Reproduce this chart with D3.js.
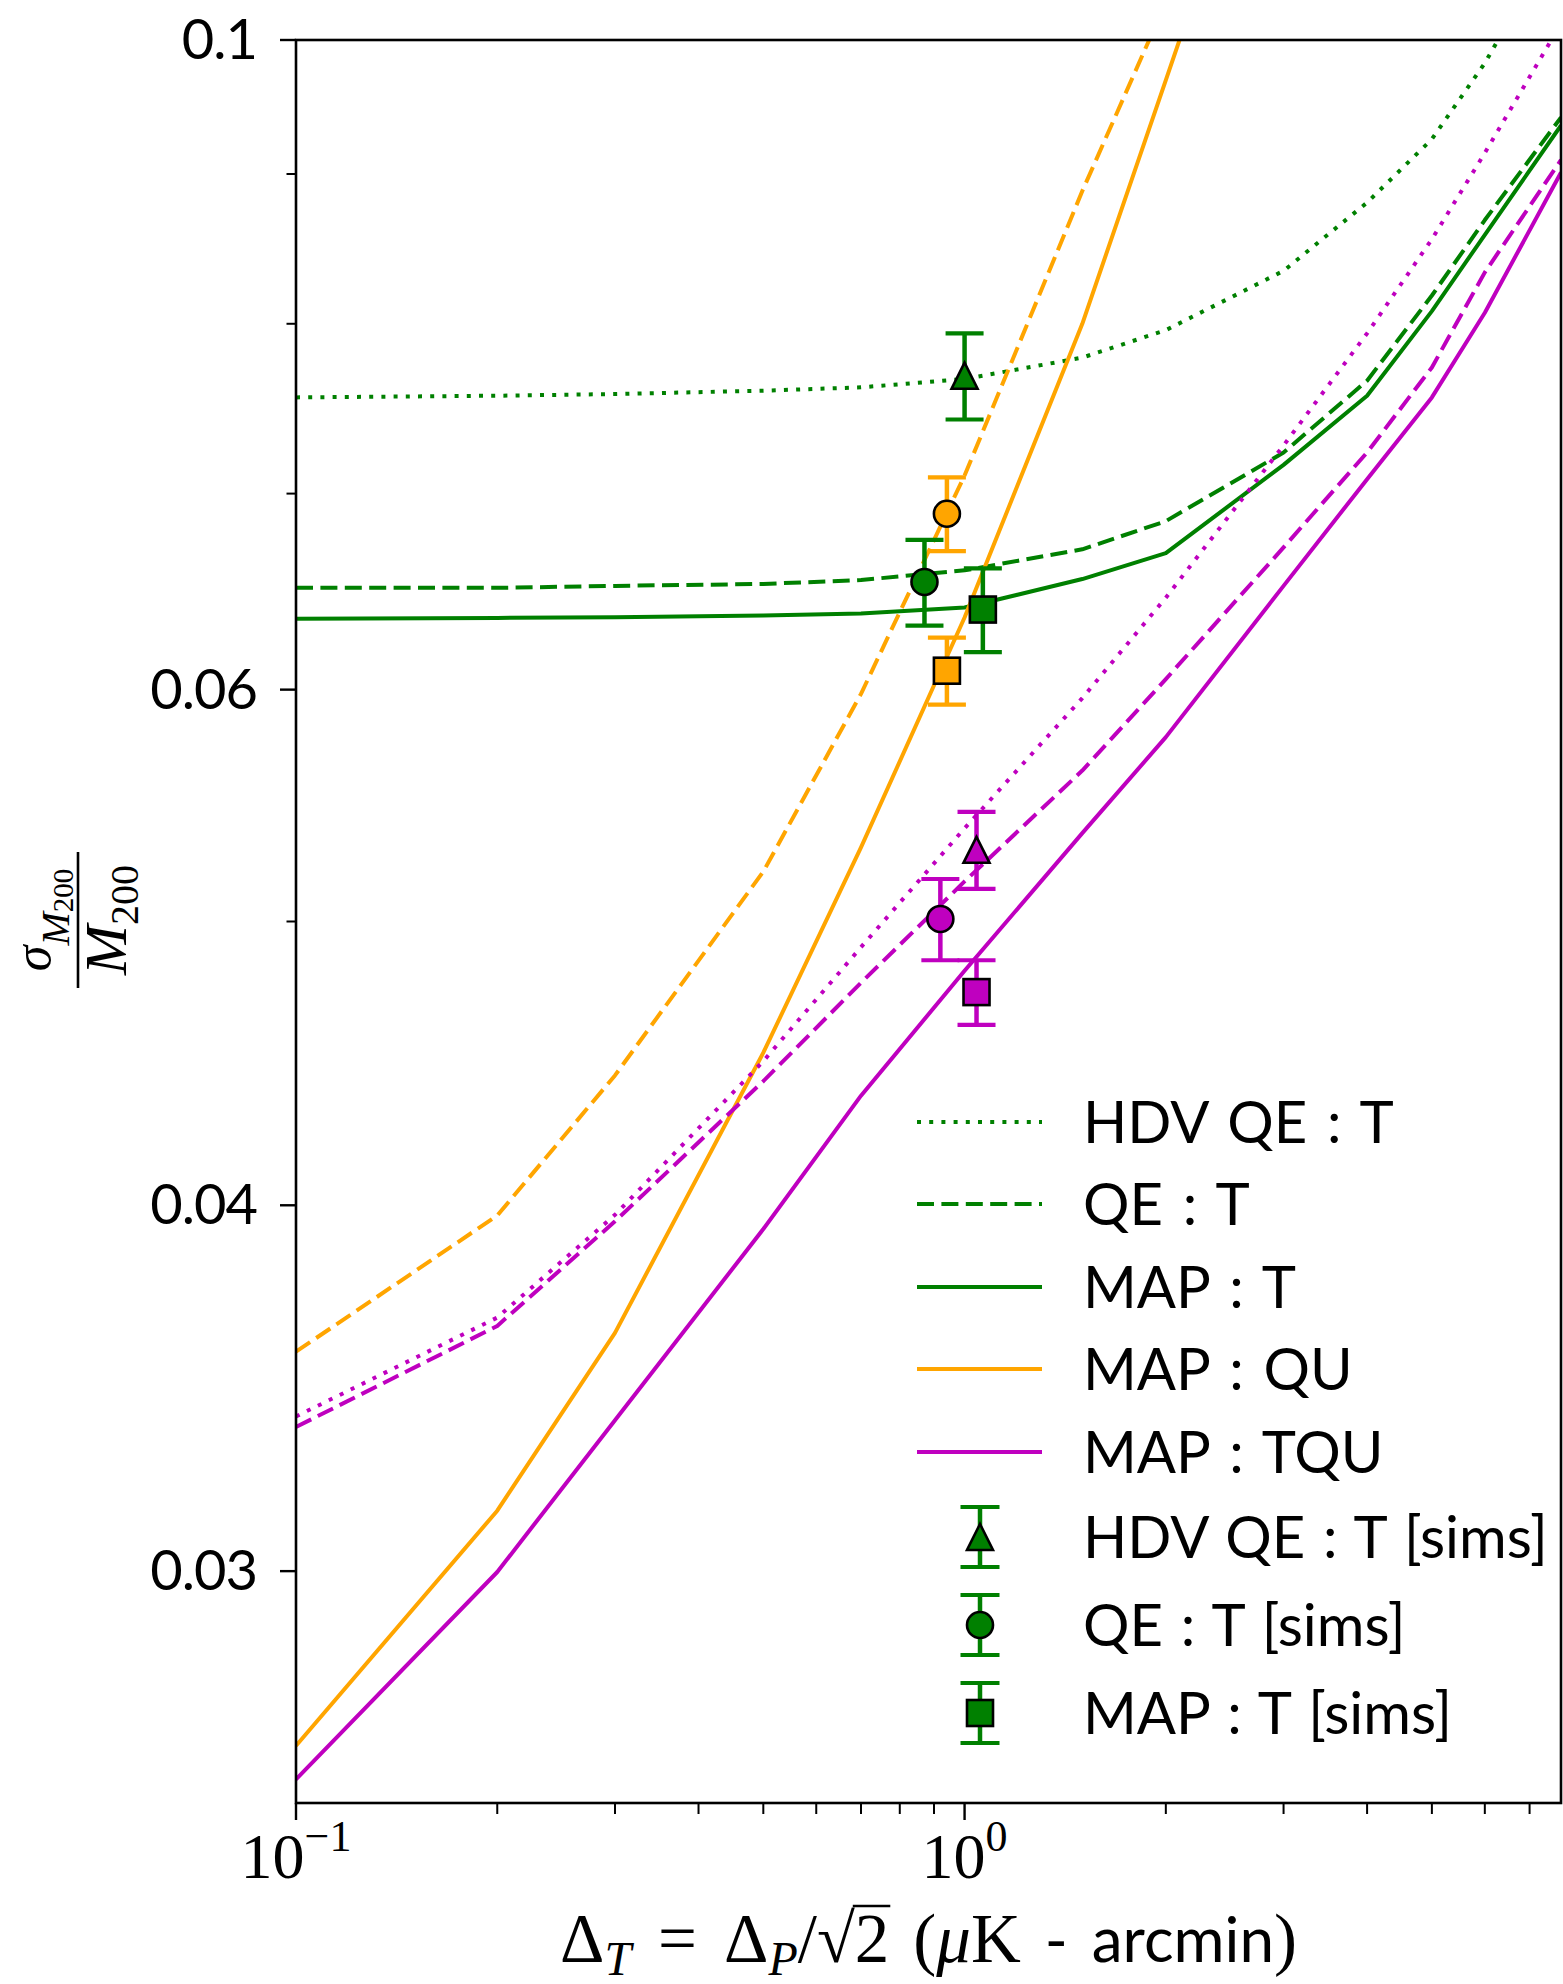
<!DOCTYPE html>
<html>
<head>
<meta charset="utf-8">
<script src="https://cdn.jsdelivr.net/npm/d3@7"></script>
<style>
  body { margin: 0; background: #ffffff; }
  svg { display: block; }
</style>
</head>
<body>
<script>
// ---- Forecast curves: fractional mass uncertainty vs. map noise level ----
const noiseLevels = [0.1, 0.2, 0.3, 0.5, 0.7, 1.0, 1.5, 2.0, 3.0, 4.0, 5.0, 6.0, 7.8];

const hdvQeT   = [0.0755, 0.0756, 0.0757, 0.0759, 0.0761, 0.0766, 0.0779, 0.0796, 0.0834, 0.0880, 0.0925, 0.0982, 0.1090];
const qeT      = [0.0650, 0.0650, 0.0651, 0.0652, 0.0654, 0.0659, 0.0670, 0.0685, 0.0723, 0.0765, 0.0818, 0.0868, 0.0941];
const mapT     = [0.06344, 0.06348, 0.06352, 0.0636, 0.0637, 0.0640, 0.06545, 0.0668, 0.0716, 0.0756, 0.0808, 0.0858, 0.0935];
const qeQU     = [0.03565, 0.03968, 0.0443, 0.0520, 0.0598, 0.0710, 0.0888, 0.1030, 0.132, 0.160, 0.186, 0.210, 0.250];
const mapQU    = [0.02615, 0.03146, 0.03618, 0.0451, 0.0530, 0.0635, 0.0800, 0.0969, 0.127, 0.153, 0.178, 0.200, 0.240];
const hdvQeTQU = [0.03388, 0.03662, 0.0397, 0.0448, 0.0490, 0.0538, 0.0596, 0.0645, 0.0727, 0.0794, 0.0855, 0.0915, 0.1013];
const qeTQU    = [0.03360, 0.03638, 0.0395, 0.0441, 0.04765, 0.0516, 0.0563, 0.0605, 0.0671, 0.0723, 0.0773, 0.0833, 0.0910];
const mapTQU   = [0.02547, 0.02998, 0.03378, 0.03926, 0.0436, 0.0481, 0.0536, 0.0578, 0.0651, 0.0708, 0.0755, 0.0807, 0.0901];

// ---- Simulation results (points with error bars) ----
const simEstimator = ["HDV QE", "QE", "MAP", "QE", "MAP", "HDV QE", "QE", "MAP"];
const simMaps      = ["T", "T", "T", "QU", "QU", "TQU", "TQU", "TQU"];
const simNoise     = [1.0, 0.871, 1.065, 0.941, 0.941, 1.042, 0.920, 1.042];
const simSigma     = [0.0768, 0.0653, 0.0639, 0.0689, 0.0609, 0.0529, 0.0501, 0.0473];
const simError     = [0.0026, 0.0022, 0.0021, 0.0020, 0.0016, 0.0016, 0.0016, 0.0012];

// ---- Axis ticks ----
const xMajorTicks = [0.1, 1];
const xMinorTicks = [0.2, 0.3, 0.4, 0.5, 0.6, 0.7, 0.8, 0.9, 2, 3, 4, 5, 6, 7];
const yLabeledTicks = [0.1, 0.06, 0.04, 0.03];
const yLabels = ["0.1", "0.06", "0.04", "0.03"];
const yMinorTicks = [0.09, 0.08, 0.07, 0.05];

// ---- Styles ----
const colorOf = { T: "#008000", QU: "#ffa500", TQU: "#bf00bf" };
const LW = 4;
const dashOf = { solid: null, dashed: "17,7.4", dotted: "4,8.2" };

const curves = [
  { label: "HDV QE : T", values: hdvQeT,   color: colorOf.T,   dash: "dotted", legend: true },
  { label: "QE : T",     values: qeT,      color: colorOf.T,   dash: "dashed", legend: true },
  { label: "MAP : T",    values: mapT,     color: colorOf.T,   dash: "solid",  legend: true },
  { label: "QE : QU",    values: qeQU,     color: colorOf.QU,  dash: "dashed", legend: false },
  { label: "MAP : QU",   values: mapQU,    color: colorOf.QU,  dash: "solid",  legend: true },
  { label: "HDV QE : TQU", values: hdvQeTQU, color: colorOf.TQU, dash: "dotted", legend: false },
  { label: "QE : TQU",   values: qeTQU,    color: colorOf.TQU, dash: "dashed", legend: false },
  { label: "MAP : TQU",  values: mapTQU,   color: colorOf.TQU, dash: "solid",  legend: true },
];

const shapeOf = { "HDV QE": "triangle", "QE": "circle", "MAP": "square" };

const W = 1563, H = 1984;
const plot = { left: 296, right: 1561, top: 40, bottom: 1803 };

const x = d3.scaleLog().domain([0.1, 7.8]).range([plot.left, plot.right]);
const y = d3.scaleLog().domain([0.025, 0.1]).range([plot.bottom, plot.top]);

const SANS = "Lato, 'Open Sans', 'DejaVu Sans', sans-serif";
const SERIF = "'Liberation Serif', 'DejaVu Serif', serif";

const svg = d3.select("body").append("svg")
  .attr("width", W).attr("height", H)
  .attr("viewBox", `0 0 ${W} ${H}`);

svg.append("rect").attr("width", W).attr("height", H).attr("fill", "#fff");

svg.append("defs").append("clipPath").attr("id", "plot-clip")
  .append("rect")
  .attr("x", plot.left).attr("y", plot.top)
  .attr("width", plot.right - plot.left).attr("height", plot.bottom - plot.top);

// ---- Curves ----
const line = d3.line().x(d => x(d[0])).y(d => y(d[1]));
const curveLayer = svg.append("g").attr("clip-path", "url(#plot-clip)");
curves.forEach(c => {
  curveLayer.append("path")
    .datum(noiseLevels.map((n, i) => [n, c.values[i]]))
    .attr("d", line)
    .attr("fill", "none")
    .attr("stroke", c.color)
    .attr("stroke-width", LW)
    .attr("stroke-linejoin", "round")
    .attr("stroke-dasharray", dashOf[c.dash]);
});

// ---- Markers ----
function drawMarker(g, shape, cx, cy, fill) {
  let m;
  if (shape === "circle") {
    m = g.append("circle").attr("cx", cx).attr("cy", cy).attr("r", 13);
  } else if (shape === "square") {
    m = g.append("rect").attr("x", cx - 13).attr("y", cy - 13).attr("width", 26).attr("height", 26);
  } else {
    const s = 13;
    m = g.append("path").attr("d", `M${cx},${cy - s}L${cx - s},${cy + s}L${cx + s},${cy + s}Z`)
      .attr("stroke-linejoin", "miter");
  }
  m.attr("fill", fill).attr("stroke", "#000").attr("stroke-width", 2.6);
}

function drawErrorBar(g, cx, yTop, yBot, color, capHalf) {
  g.append("line").attr("x1", cx).attr("x2", cx).attr("y1", yTop).attr("y2", yBot)
    .attr("stroke", color).attr("stroke-width", 4.5);
  [yTop, yBot].forEach(yy => {
    g.append("line").attr("x1", cx - capHalf).attr("x2", cx + capHalf).attr("y1", yy).attr("y2", yy)
      .attr("stroke", color).attr("stroke-width", 4.2);
  });
}

const simLayer = svg.append("g");
simNoise.forEach((n, i) => {
  const color = colorOf[simMaps[i]];
  const g = simLayer.append("g");
  drawErrorBar(g, x(n), y(simSigma[i] + simError[i]), y(simSigma[i] - simError[i]), color, 19);
  drawMarker(g, shapeOf[simEstimator[i]], x(n), y(simSigma[i]), color);
});

// ---- Axes box ----
svg.append("rect")
  .attr("x", plot.left).attr("y", plot.top)
  .attr("width", plot.right - plot.left).attr("height", plot.bottom - plot.top)
  .attr("fill", "none").attr("stroke", "#000").attr("stroke-width", 2.6);

// ---- Y ticks ----
const axisG = svg.append("g").attr("stroke", "#000");
yLabeledTicks.forEach(t => {
  axisG.append("line").attr("x1", plot.left - 16).attr("x2", plot.left)
    .attr("y1", y(t)).attr("y2", y(t)).attr("stroke-width", 2.4);
});
yMinorTicks.forEach(t => {
  axisG.append("line").attr("x1", plot.left - 9.5).attr("x2", plot.left)
    .attr("y1", y(t)).attr("y2", y(t)).attr("stroke-width", 2);
});
yLabeledTicks.forEach((t, i) => {
  svg.append("text")
    .attr("x", plot.left - 39).attr("y", y(t) + 19)
    .attr("text-anchor", "end")
    .attr("font-family", SANS).attr("font-size", 56)
    .attr("letter-spacing", -1)
    .attr("fill", "#000")
    .text(yLabels[i]);
});

// ---- X ticks ----
xMajorTicks.forEach(t => {
  axisG.append("line").attr("x1", x(t)).attr("x2", x(t))
    .attr("y1", plot.bottom).attr("y2", plot.bottom + 17).attr("stroke-width", 2.4);
});
xMinorTicks.forEach(t => {
  axisG.append("line").attr("x1", x(t)).attr("x2", x(t))
    .attr("y1", plot.bottom).attr("y2", plot.bottom + 11).attr("stroke-width", 2);
});
xMajorTicks.forEach(t => {
  const exp = Math.round(Math.log10(t));
  const txt = svg.append("text")
    .attr("x", x(t)).attr("y", 1878)
    .attr("text-anchor", "middle")
    .attr("font-family", SERIF).attr("font-size", 64).attr("fill", "#000");
  txt.append("tspan").text("10");
  txt.append("tspan").attr("font-size", 44).attr("dy", -27)
    .text(exp < 0 ? "\u2212" + Math.abs(exp) : String(exp));
});

// ---- X axis label ----
const xl = svg.append("text")
  .attr("x", (plot.left + plot.right) / 2).attr("y", 1962)
  .attr("text-anchor", "middle")
  .attr("font-family", SERIF).attr("font-size", 69).attr("fill", "#000");
const xlParts = [
  { t: "\u0394" },
  { t: "T", italic: true, size: 48, dy: 13 },
  { t: "=", dy: -13, dx: 27 },
  { t: "\u0394", dx: 27 },
  { t: "P", italic: true, size: 48, dy: 13 },
  { t: "/\u221a", dy: -13 },
  { t: "2" },
  { t: "(", dx: 24 },
  { t: "\u03bc", italic: true },
  { t: "K" },
  { t: "-", sans: true, dx: 24 },
  { t: "arcmin", sans: true, dx: 24 },
  { t: ")" },
];
let xlString = "";
let radicalIndex = 0;
xlParts.forEach(p => {
  if (p.t === "2") radicalIndex = xlString.length;
  xlString += p.t;
  const ts = xl.append("tspan").text(p.t);
  if (p.italic) ts.attr("font-style", "italic");
  if (p.size) ts.attr("font-size", p.size);
  if (p.dy) ts.attr("dy", p.dy);
  if (p.dx) ts.attr("dx", p.dx);
  if (p.sans) ts.attr("font-family", SANS).attr("font-size", 62);
});
// overline of the square root
try {
  const node = xl.node();
  const sq = node.getExtentOfChar(radicalIndex - 1);
  const two = node.getExtentOfChar(radicalIndex);
  const topY = sq.y + 5;
  svg.append("line")
    .attr("x1", sq.x + sq.width - 2).attr("x2", two.x + two.width + 1)
    .attr("y1", topY).attr("y2", topY)
    .attr("stroke", "#000").attr("stroke-width", 2.6);
} catch (e) { /* layout not available */ }

// ---- Y axis label (rotated fraction) ----
const yl = svg.append("g").attr("transform", "translate(78,920) rotate(-90)");
yl.append("line").attr("x1", -68).attr("x2", 68).attr("y1", 0).attr("y2", 0)
  .attr("stroke", "#000").attr("stroke-width", 2.6);
const num = yl.append("text").attr("x", 0).attr("y", -28).attr("text-anchor", "middle")
  .attr("font-family", SERIF).attr("font-size", 52).attr("fill", "#000");
num.append("tspan").attr("font-style", "italic").text("\u03c3");
num.append("tspan").attr("font-style", "italic").attr("font-size", 40).attr("dy", 19).text("M");
num.append("tspan").attr("font-size", 29).attr("dy", 4).text("200");
const den = yl.append("text").attr("x", 0).attr("y", 48).attr("text-anchor", "middle")
  .attr("font-family", SERIF).attr("font-size", 60).attr("fill", "#000");
den.append("tspan").attr("font-style", "italic").text("M");
den.append("tspan").attr("font-size", 40).attr("dy", 12).text("200");

// ---- Legend ----
const legend = svg.append("g");
const legendLineX = [917, 1042];
const legendTextX = 1083;
const legendCurveRows = [1122, 1204, 1287, 1369, 1452];
curves.filter(c => c.legend).forEach((c, i) => {
  const yy = legendCurveRows[i];
  legend.append("line")
    .attr("x1", legendLineX[0]).attr("x2", legendLineX[1])
    .attr("y1", yy).attr("y2", yy)
    .attr("stroke", c.color).attr("stroke-width", LW)
    .attr("stroke-dasharray", dashOf[c.dash]);
  legend.append("text")
    .attr("x", legendTextX).attr("y", yy + 21)
    .attr("font-family", SANS).attr("font-size", 58).attr("fill", "#000")
    .attr("word-spacing", 5)
    .text(c.label);
});
const legendSimRows = [1537, 1625, 1713];
const legendSims = [0, 1, 2]; // green (T) simulation entries
legendSims.forEach((k, i) => {
  const yy = legendSimRows[i];
  const g = legend.append("g");
  drawErrorBar(g, 980, yy - 30, yy + 30, colorOf[simMaps[k]], 19.5);
  drawMarker(g, shapeOf[simEstimator[k]], 980, yy, colorOf[simMaps[k]]);
  legend.append("text")
    .attr("x", legendTextX).attr("y", yy + 21)
    .attr("font-family", SANS).attr("font-size", 58).attr("fill", "#000")
    .attr("word-spacing", 3)
    .text(`${simEstimator[k]} : ${simMaps[k]} [sims]`);
});
</script>
</body>
</html>
